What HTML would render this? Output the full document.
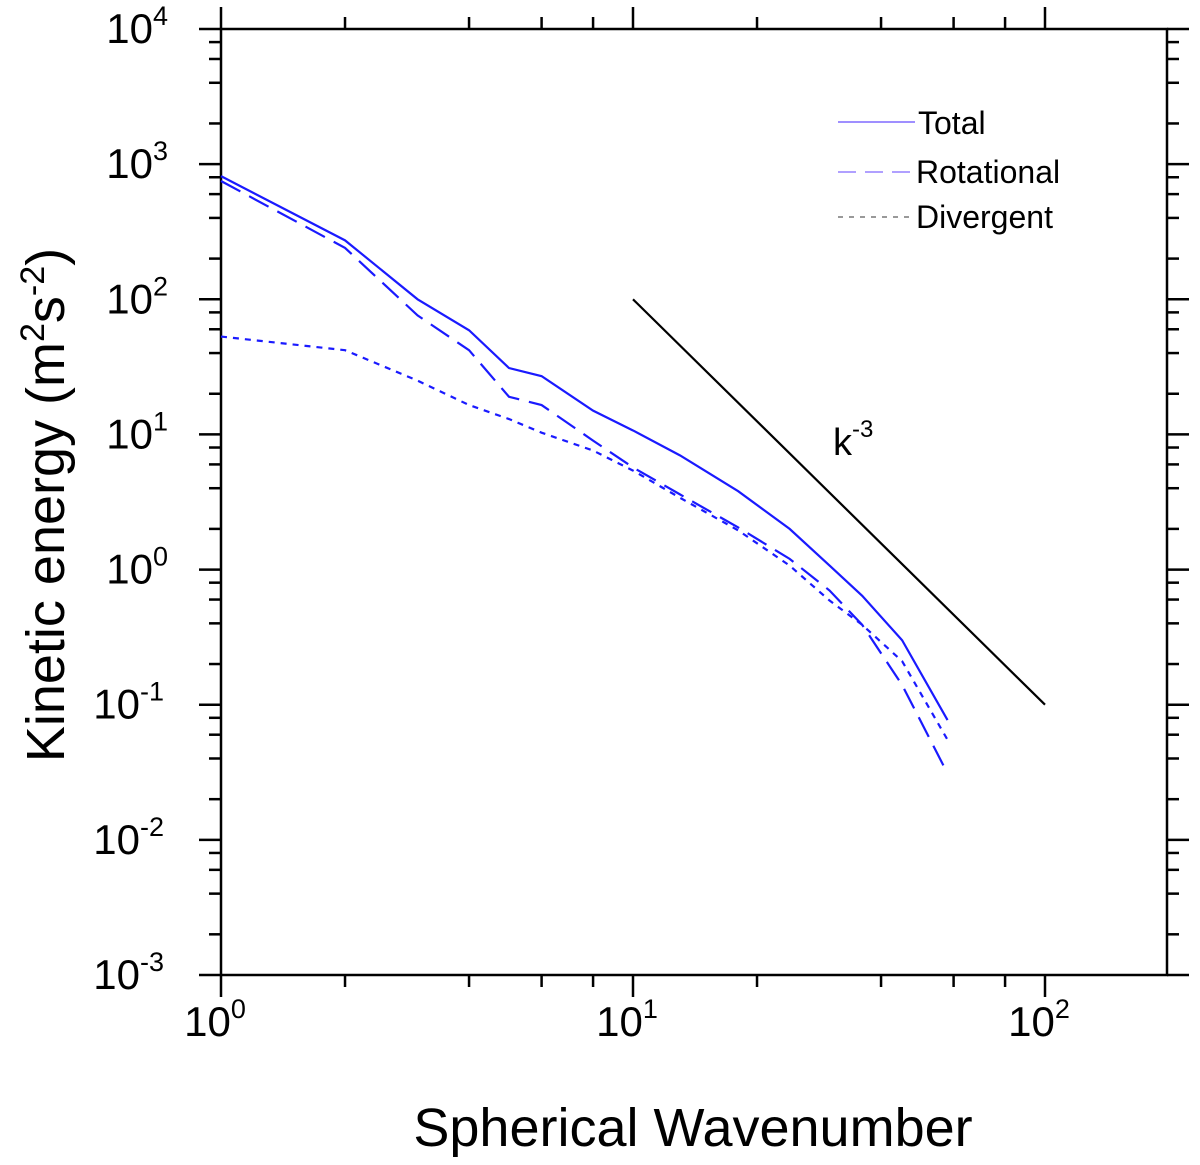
<!DOCTYPE html>
<html><head><meta charset="utf-8"><style>body{margin:0;background:#fff}svg{display:block}text{font-family:"Liberation Sans",sans-serif}</style></head>
<body>
<svg id="c" width="1200" height="1165"></svg>
<script>
const wavenumbers=[1,2,3,4,5,6,8,10,13,18,24,30,36,45,58];
const totalKE=[815,273,100,59,31,27,15,10.7,7,3.8,2.0,1.07,0.64,0.3,0.077];
const rotationalKE=[750,240,76,42,19,16.5,9,5.7,3.6,2.05,1.2,0.7,0.39,0.14,0.031];
const divergentKE=[53,42,25,16.5,13,10.3,7.6,5.4,3.4,1.95,1.07,0.59,0.39,0.21,0.055];
const refLineK=[10,100];
const refLineE=[100,0.1];
const xTickExps=[0,1,2];
const yTickExps=[4,3,2,1,0,-1,-2,-3];
const NS="http://www.w3.org/2000/svg",svg=document.getElementById('c');
const L=221,R=1167,T=29,B=975;
const X=k=>L+Math.log10(k)*412;
const Y=v=>B-(Math.log10(v)+3)*(B-T)/7;
function el(t,a,p){const e=document.createElementNS(NS,t);for(const k in a)e.setAttribute(k,a[k]);(p||svg).appendChild(e);return e;}
const ax=el('g',{stroke:'#000','stroke-width':2.5});


el('rect',{x:L,y:T,width:R-L,height:B-T,fill:'none'},ax);
for(let d=0;d<3;d++)for(let m=1;m<10;m++){if(m>1&&m%2)continue;const k=m*Math.pow(10,d);const x=X(k);if(x>R)continue;const len=m==1?22:12;
el('line',{x1:x,y1:B,x2:x,y2:B+len},ax);el('line',{x1:x,y1:T,x2:x,y2:T-len},ax);}
for(let d=-3;d<4;d++)for(let m=1;m<10;m++){if(m>1&&m%2)continue;const v=m*Math.pow(10,d);const y=Y(v);const len=m==1?22:12;
el('line',{x1:L,y1:y,x2:L-len,y2:y},ax);el('line',{x1:R,y1:y,x2:R+len,y2:y},ax);}
el('line',{x1:L,y1:T,x2:L-22,y2:T},ax);el('line',{x1:R,y1:T,x2:R+22,y2:T},ax);
function lab(x,y,e,anchor,name){const t=el('text',{x:x,y:y,'font-size':42,'text-anchor':anchor});


t.textContent='10';const s=el('tspan',{'font-size':27,dy:-18},t);s.textContent=e;}
xTickExps.forEach(e=>lab(X(Math.pow(10,e))-6,1036,e,'middle','x-tick-label'));
yTickExps.forEach(e=>lab(168-(e<0?4:0),Y(Math.pow(10,e))+14,e,'end','y-tick-label'));
function series(vals,dash,name){const p=el('polyline',{points:wavenumbers.map((k,i)=>X(k)+','+Y(vals[i])).join(' '),fill:'none',stroke:'#1a1aff','stroke-width':2.2,'stroke-dasharray':dash});

}
series(totalKE,'','total-line');series(rotationalKE,'22 10','rotational-line');series(divergentKE,'6 6','divergent-line');
const rl=el('line',{x1:X(refLineK[0]),y1:Y(refLineE[0]),x2:X(refLineK[1]),y2:Y(refLineE[1]),stroke:'#000','stroke-width':2.2});


</script>
<svg width="1200" height="1165" style="position:absolute;left:0;top:0">
<text x="833" y="455" font-size="38">k<tspan font-size="24" dy="-18">-3</tspan></text>
<g font-size="32">
<line x1="838" y1="122" x2="915" y2="122" stroke="#9f8fff" stroke-width="2"/>
<text x="918" y="134">Total</text>
<line x1="838" y1="172" x2="915" y2="172" stroke="#b0a0ff" stroke-width="2" stroke-dasharray="18 9"/>
<text x="916" y="183">Rotational</text>
<line x1="838" y1="217" x2="915" y2="217" stroke="#999" stroke-width="2" stroke-dasharray="5 6"/>
<text x="916" y="228">Divergent</text>
</g>
<text x="693" y="1146" font-size="54" text-anchor="middle">Spherical Wavenumber</text>
<text transform="translate(64,505) rotate(-90)" font-size="54" text-anchor="middle">Kinetic energy (m<tspan font-size="34" dy="-20">2</tspan><tspan dy="20">s</tspan><tspan font-size="34" dy="-20">-2</tspan><tspan dy="20">)</tspan></text>
</svg>
</body></html>
